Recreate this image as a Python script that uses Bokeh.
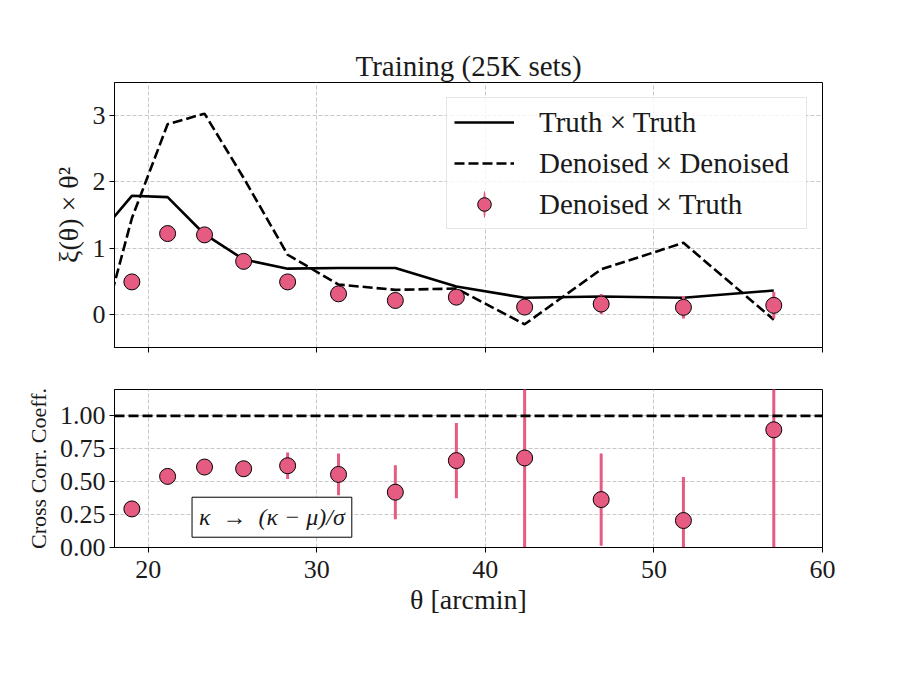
import numpy as np
from bokeh.plotting import figure
from bokeh.models import (Range1d, FixedTicker, Legend, LegendItem, Span, Label,
                          NumeralTickFormatter)
from bokeh.layouts import column
from bokeh.embed import file_html
from bokeh.resources import INLINE

# ---------------- data ----------------
theta = [19.03, 21.15, 23.34, 25.66, 28.27, 31.29, 34.66, 38.28, 42.33, 46.87, 51.75, 57.11]
theta_line = [17.22] + theta
truth_truth = [1.245, 1.79, 1.77, 1.21, 0.83, 0.69, 0.70, 0.70, 0.42, 0.25, 0.27, 0.25, 0.36]
den_den = [-0.27, 1.45, 2.87, 3.03, 2.06, 0.90, 0.45, 0.37, 0.39, -0.15, 0.68, 1.08, -0.08]
den_truth = [0.49, 1.22, 1.20, 0.80, 0.49, 0.31, 0.21, 0.26, 0.11, 0.156, 0.106, 0.136]
den_truth_err = [0.03, 0.03, 0.03, 0.03, 0.04, 0.05, 0.05, 0.07, 0.09, 0.15, 0.17, 0.20]
cross_corr = [0.293, 0.54, 0.611, 0.598, 0.621, 0.555, 0.42, 0.66, 0.68, 0.364, 0.205, 0.894]
cross_corr_err = [0.03, 0.03, 0.03, 0.03, 0.10, 0.158, 0.205, 0.285, 1.0, 0.35, 0.33, 1.0]
x_ticks = [20, 30, 40, 50, 60]
top_y_ticks = [0, 1, 2, 3]
bot_y_ticks = [0.0, 0.25, 0.5, 0.75, 1.0]

PINK = "#e65b82"
FONT = "Liberation Serif"
TXT = "#1a1a1a"


def style(p):
    p.outline_line_color = "black"
    p.outline_line_width = 1
    p.background_fill_color = "white"
    p.border_fill_color = "white"
    for ax in (p.xaxis, p.yaxis):
        ax.axis_line_color = "black"
        ax.major_tick_line_color = "black"
        ax.major_tick_in = 0
        ax.major_tick_out = 5
        ax.minor_tick_line_color = None
        ax.major_label_text_font = FONT
        ax.major_label_text_font_size = "26px"
        ax.major_label_text_color = TXT
        ax.axis_label_text_font = FONT
        ax.axis_label_text_font_style = "normal"
        ax.axis_label_text_color = TXT
    p.xaxis.ticker = FixedTicker(ticks=x_ticks)
    p.yaxis.major_label_standoff = 4
    for g in (p.xgrid, p.ygrid):
        g.grid_line_color = "#c8c8c8"
        g.grid_line_dash = "4 2"
        g.grid_line_width = 1


# ---------------- top panel ----------------
top = figure(frame_width=708, frame_height=265, x_range=Range1d(18, 60), y_range=Range1d(-0.5, 3.5),
             min_border_left=114, min_border_right=75, min_border_top=82, min_border_bottom=21,
             output_backend="svg", toolbar_location=None, title="Training (25K sets)")
style(top)
top.title.text_font = FONT
top.title.text_font_size = "29px"
top.title.text_font_style = "normal"
top.title.text_color = TXT
top.title.align = "center"
top.title.standoff = 2
top.yaxis.ticker = FixedTicker(ticks=top_y_ticks)
top.xaxis.major_label_text_font_size = "0px"
top.xaxis.major_label_text_color = None
top.xaxis.major_label_standoff = 0
top.yaxis.axis_label = "ξ(θ) × θ²"
top.yaxis.axis_label_text_font_size = "28px"
top.yaxis.axis_label_standoff = 6

lo = [v - e for v, e in zip(den_truth, den_truth_err)]
hi = [v + e for v, e in zip(den_truth, den_truth_err)]

r_tt = top.line(theta_line, truth_truth, line_color="black", line_width=2.6)
r_dd = top.line(theta_line, den_den, line_color="black", line_width=2.6, line_dash="10 4")
top.segment(x0=theta, y0=lo, x1=theta, y1=hi, line_color=PINK, line_width=3)
r_pts = top.scatter(theta, den_truth, size=16, fill_color=PINK, line_color="black", line_width=1)
# legend-only proxy for the vertical error bar (no data, nothing drawn in the frame)
r_bar = top.ellipse(x=[np.nan], y=[np.nan], width=3, height=32, width_units="screen",
                    height_units="screen", fill_color=PINK, line_color=None)

legend = Legend(items=[LegendItem(label="Truth × Truth", renderers=[r_tt]),
                       LegendItem(label="Denoised × Denoised", renderers=[r_dd]),
                       LegendItem(label="Denoised × Truth", renderers=[r_bar, r_pts])],
                location="top_right", margin=15, padding=7, spacing=7, label_standoff=25,
                glyph_width=60, glyph_height=34, label_height=34, label_width=260,
                label_text_font=FONT, label_text_font_size="29px", label_text_color=TXT,
                border_line_color="#cccccc", border_line_width=1,
                background_fill_color="white", background_fill_alpha=0.8)
top.add_layout(legend)

# ---------------- bottom panel ----------------
bot = figure(frame_width=708, frame_height=158, x_range=Range1d(18, 60), y_range=Range1d(0, 1.2),
             min_border_left=114, min_border_right=75, min_border_top=21, min_border_bottom=90,
             output_backend="svg", toolbar_location=None)
style(bot)
bot.yaxis.ticker = FixedTicker(ticks=bot_y_ticks)
bot.yaxis.formatter = NumeralTickFormatter(format="0.00")
bot.yaxis.axis_label = "Cross Corr. Coeff."
bot.yaxis.axis_label_text_font_size = "22px"
bot.yaxis.axis_label_standoff = 6
bot.xaxis.major_label_standoff = 8
bot.xaxis.axis_label = "θ [arcmin]"
bot.xaxis.axis_label_text_font_size = "28px"
bot.xaxis.axis_label_standoff = 3

bot.add_layout(Span(location=1.0, dimension="width", line_color="black", line_width=2.6,
                    line_dash="10 4"))
clo = [v - e for v, e in zip(cross_corr, cross_corr_err)]
chi = [v + e for v, e in zip(cross_corr, cross_corr_err)]
bot.segment(x0=theta, y0=clo, x1=theta, y1=chi, line_color=PINK, line_width=3)
bot.scatter(theta, cross_corr, size=16, fill_color=PINK, line_color="black", line_width=1)

bot.add_layout(Label(x=22.6, y=0.078, x_units="data", y_units="data",
                     text="κ\u2002→\u2002(κ − μ)/σ",
                     text_font=FONT, text_font_size="24px", text_font_style="italic",
                     text_color=TXT, anchor="bottom_left", padding=7,
                     border_line_color="black", border_line_width=1,
                     background_fill_color="white"))

layout = column(top, bot)
open("out.html", "w").write(file_html(layout, INLINE))
